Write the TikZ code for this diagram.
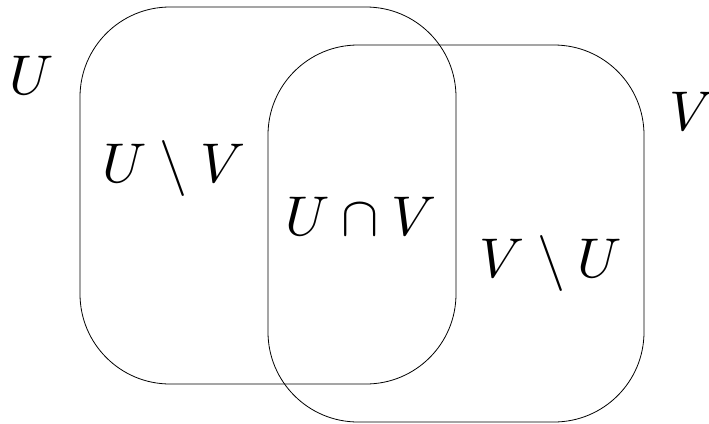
\documentclass[tikz,border=0pt]{standalone}
\begin{document}
\begin{tikzpicture}[x=1pt,y=-1pt,
  setbox/.style={draw=black,line width=0.8pt,rounded corners=90pt},
  lbl/.style={inner sep=0pt,anchor=base,scale=5.6}]
\useasboundingbox (0,0) rectangle (709,423);
\draw[setbox] (80,7) rectangle (456,384);
\draw[setbox] (268,45) rectangle (644,422);
\node[lbl] (u) at (32,94) {$U$};
\node[lbl] (v) at (692,130) {$V$};
\node[lbl] (uv) at (174,182) {$U\setminus V$};
\node[lbl] (ucv) at (361,235) {$U\cap V$};
\node[lbl] (vu) at (551,277) {$V\setminus U$};
\end{tikzpicture}
\end{document}
